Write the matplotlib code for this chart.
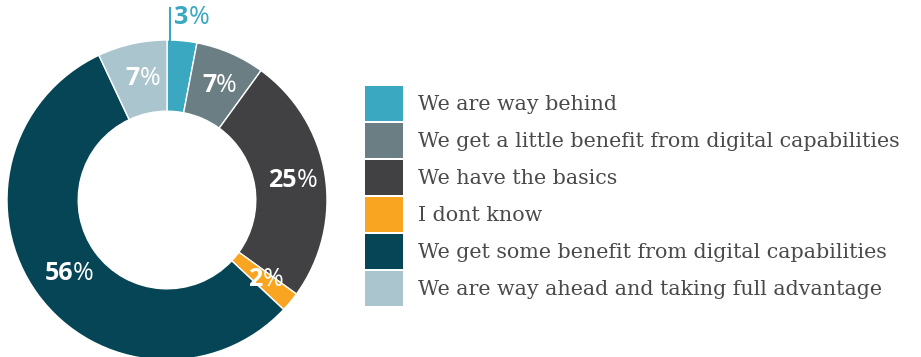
import numpy as np
import matplotlib
matplotlib.use("Agg")
import matplotlib.pyplot as plt
from matplotlib.patches import Rectangle

categories = [
    "We are way behind",
    "We get a little benefit from digital capabilities",
    "We have the basics",
    "I dont know",
    "We get some benefit from digital capabilities",
    "We are way ahead and taking full advantage",
]
values = [3, 7, 25, 2, 56, 7]
colors = ["#3aa8c1", "#6a7e84", "#414042", "#f9a521", "#064556", "#abc5ce"]
label_colors = ["#3aa8c1", "white", "white", "white", "white", "white"]

W, H = 921, 357
fig = plt.figure(figsize=(W / 100, H / 100), dpi=100)
ax = fig.add_axes([0, 0, 1, 1])

cx, cy = 167, H - 200
R = 160
width = 0.445

wedges, _ = ax.pie(values, colors=colors, startangle=90, counterclock=False,
                   center=(cx, cy), radius=R,
                   wedgeprops=dict(width=R * width, edgecolor="white", linewidth=1.0))
ax.set_xlim(0, W)
ax.set_ylim(0, H)
ax.set_aspect("equal")
ax.axis("off")

num_font = "Open Sans"
fs = 18
renderer = fig.canvas.get_renderer()

def place_label(x, y, val, color):
    t1 = ax.text(x, y, f"{val}", fontsize=fs, fontweight="bold", family=num_font,
                 color=color, ha="left", va="center")
    t2 = ax.text(x, y, "%", fontsize=fs, fontweight="normal", family=num_font,
                 color=color, ha="left", va="center")
    b1 = t1.get_window_extent(renderer)
    b2 = t2.get_window_extent(renderer)
    total = b1.width + b2.width
    left = x - total / 2
    t1.set_x(left)
    t2.set_x(left + b1.width)

total_v = sum(values)
cum = 0
rmid = R * (1 - width / 2)
for i, v in enumerate(values):
    mid = 90 - (cum + v / 2) / total_v * 360
    if i == 0:
        a = np.radians(90 - (cum + v * 0.1) / total_v * 360)
        lx = cx + R * np.cos(a)
        ax.plot([lx, lx], [cy + R * 0.9, H - 8], color=colors[i], lw=1.5)
        place_label(lx + 22, H - 17, v, label_colors[i])
    else:
        a = np.radians(mid)
        r = rmid
        place_label(cx + r * np.cos(a) + 3, cy + r * np.sin(a), v, label_colors[i])
    cum += v

# legend
lx0, sq_w, sq_h, pitch = 365, 38, 35, 37
top = H - 86
for i, (c, lab) in enumerate(zip(colors, categories)):
    y_top = top - i * pitch
    ax.add_patch(Rectangle((lx0, y_top - sq_h), sq_w, sq_h, facecolor=c, edgecolor="none"))
    ax.text(418, y_top - sq_h / 2 - 1, lab, fontsize=14.9, family="DejaVu Serif",
            color="#4a4a4a", ha="left", va="center")

fig.savefig("out.png", dpi=100)
